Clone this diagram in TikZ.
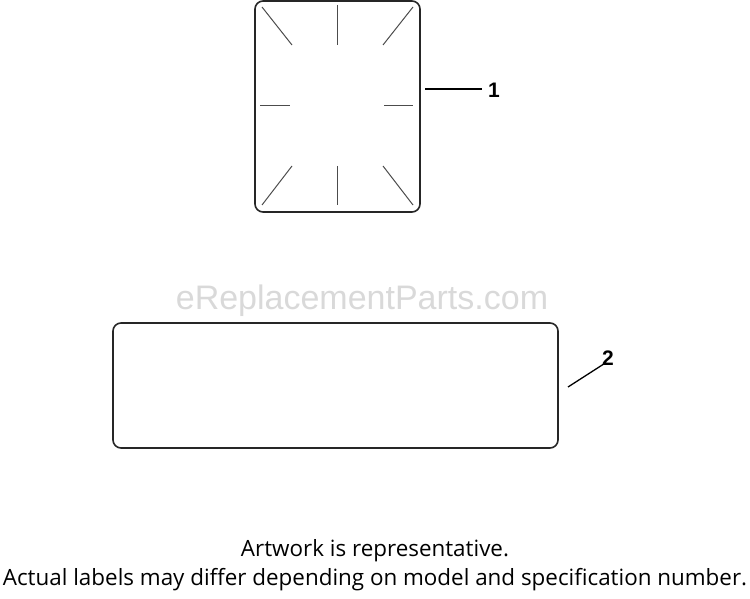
\documentclass[tikz,border=0pt]{standalone}
\usepackage{fontspec}
\setmainfont{Liberation Sans}
\newfontfamily\notefont{Open Sans}
\begin{document}
\begin{tikzpicture}[x=1pt,y=-1pt,
  outline/.style={draw=black!85,line width=1.6pt,rounded corners=8pt},
  tick/.style={draw=black!70,line width=1pt},
  leader/.style={draw=black,line width=1.3pt},
  callout/.style={font=\bfseries\fontsize{21}{21}\selectfont,inner sep=0pt},
  note/.style={font=\notefont\fontsize{22.4}{24}\selectfont,inner sep=0pt},
  wmark/.style={font=\fontsize{34}{34}\selectfont,text=black!15,inner sep=0pt}]
\useasboundingbox (0,0) rectangle (750,599);
% label 1
\draw[outline] (255,1) rectangle (420,212);
\draw[tick] (262,7) -- (292,45);
\draw[tick] (337,5) -- (337,45);
\draw[tick] (413,7) -- (383,45);
\draw[tick] (260,106) -- (290,106);
\draw[tick] (384,106) -- (413,106);
\draw[tick] (292,166) -- (262,205);
\draw[tick] (337,166) -- (337,205);
\draw[tick] (383,166) -- (413,205);
\node[callout] (n1) at (494,90) {1};
\coordinate (l1) at (425,89);
\draw[leader] (l1) -- (482,89);
% watermark
\node[wmark] (wm) at (362,301) {eReplacementParts.com};
% label 2
\draw[outline] (113,323) rectangle (558,448);
\node[callout] (n2) at (608,358) {2};
\coordinate (l2) at (568,387);
\draw[leader] (l2) -- ([xshift=1pt,yshift=1pt]n2.south west);
% notes
\node[note] (t1) at (375,551) {Artwork is representative.};
\node[note] (t2) at (375,580) {Actual labels may differ depending on model and specification number.};
\end{tikzpicture}
\end{document}
